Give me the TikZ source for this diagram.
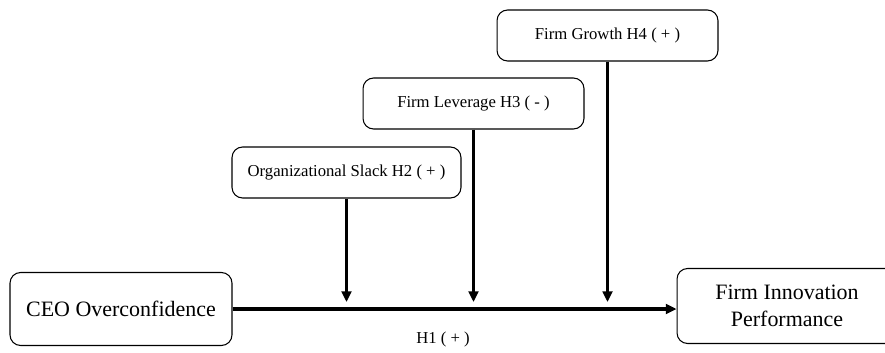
\documentclass[tikz,border=0pt]{standalone}
\usepackage{fontspec}
\setmainfont{Liberation Serif}
\usetikzlibrary{arrows.meta}
\begin{document}
\begin{tikzpicture}[>={Triangle[length=6pt,width=5.5pt]}, x=0.02cm, y=-0.02cm,
	box/.style={draw, rounded corners=6pt, line width=.6pt, align=center, inner sep=0pt},
	small/.style={box, minimum width=4.42cm, minimum height=1.02cm, font=\fontsize{9.5}{11}\selectfont},
	big/.style={box, minimum height=1.46cm, font=\fontsize{12.5}{15}\selectfont},
	link/.style={->, line width=1.9pt}]

	\useasboundingbox (0,0) rectangle (885,352);

	% moderators
	\node[small] (growth) at (607.5,35.5) {Firm Growth H4 ( + )};
	\node[small] (leverage) at (473.5,103.5) {Firm Leverage H3 ( - )};
	\node[small, minimum width=4.58cm] (slack) at (346.5,172.5) {Organizational Slack H2 ( + )};

	% main variables
	\node[big, minimum width=4.44cm] (ceo) at (121,309) {CEO Overconfidence};
	\node[big, minimum width=4.4cm, minimum height=1.5cm] (innov) at (787,306) {Firm Innovation\\Performance};

	% H1
	\draw[link] (ceo.east) -- (ceo.east -| innov.west);
	\node (h1) at (443,339) {\fontsize{9.5}{11}\selectfont H1 ( + )};

	% moderating arrows
	\coordinate (tip) at (0,302);
	\foreach \m in {slack,leverage,growth}{
		\draw[link] (\m.south) -- (\m.south |- tip);
	}

\end{tikzpicture}
\end{document}
